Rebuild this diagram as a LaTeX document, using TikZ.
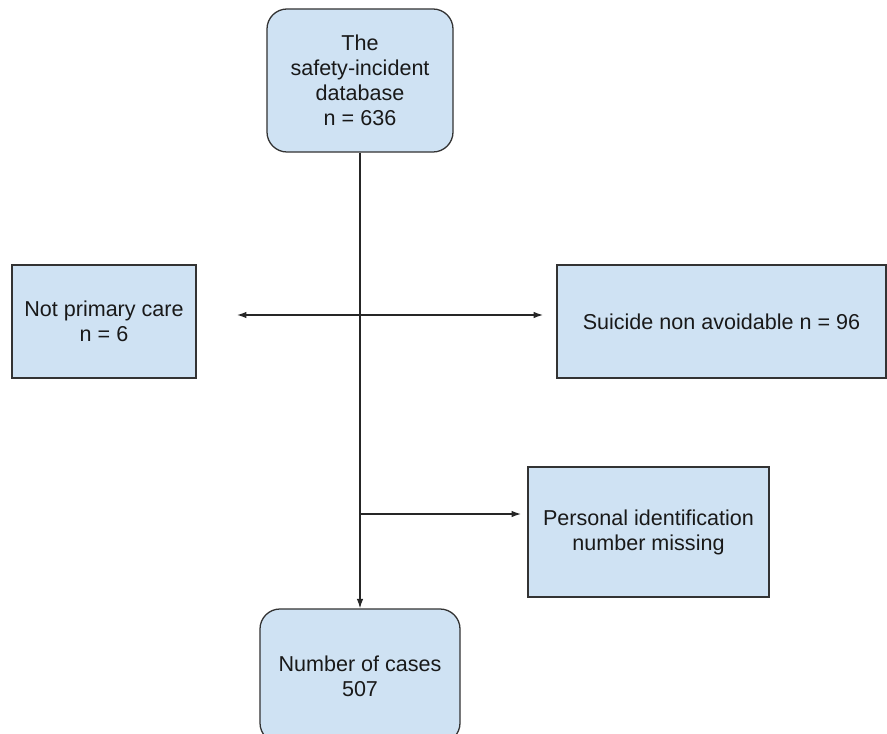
\documentclass[tikz,border=0pt]{standalone}
\usepackage{fontspec}
\setmainfont{Liberation Sans}
\usetikzlibrary{arrows.meta}
\definecolor{boxblue}{HTML}{CFE2F3}
\tikzset{
    box/.style={draw=black!80, fill=boxblue, line width=1.1pt, align=center,
        inner sep=0pt, text=black!90, font=\fontsize{18.4}{21.3}\selectfont},
    roundbox/.style={box, rounded corners=0.6cm},
    flow/.style={line width=1pt, draw=black!85, -{Latex[length=8pt,width=5.5pt]}},
    twoway/.style={line width=1pt, draw=black!85, {Latex[length=8pt,width=5.5pt]}-{Latex[length=8pt,width=5.5pt]}},
}
\begin{document}
\begin{tikzpicture}[x=0.03cm, y=-0.03cm]
    \useasboundingbox (0,0) rectangle (887,734);
    % Cajas
    \node[roundbox, minimum width=5.58cm, minimum height=4.29cm] (db) at (360,80.5)
        {The\\safety-incident\\database\\n = 636};
    \node[box, minimum width=5.52cm, minimum height=3.39cm] (npc) at (104,321.5)
        {Not primary care\\n = 6};
    \node[box, minimum width=9.87cm, minimum height=3.39cm] (sna) at (721.5,321.5)
        {Suicide non avoidable n = 96};
    \node[box, minimum width=7.23cm, minimum height=3.9cm] (pim) at (648.5,532)
        {Personal identification\\number missing};
    \node[roundbox, minimum width=6cm, minimum height=4.02cm] (cases) at (360,676)
        {Number of cases\\507};
    % Flechas
    \coordinate (leftend) at (237,315);
    \coordinate (rightend) at (543,315);
    \coordinate (branch) at (360,514);
    \coordinate (pimend) at (521,514);
    \draw[flow] (db.south) -- (cases.north);
    \draw[twoway] (leftend) -- (rightend);
    \draw[flow] (branch) -- (pimend);
\end{tikzpicture}
\end{document}
